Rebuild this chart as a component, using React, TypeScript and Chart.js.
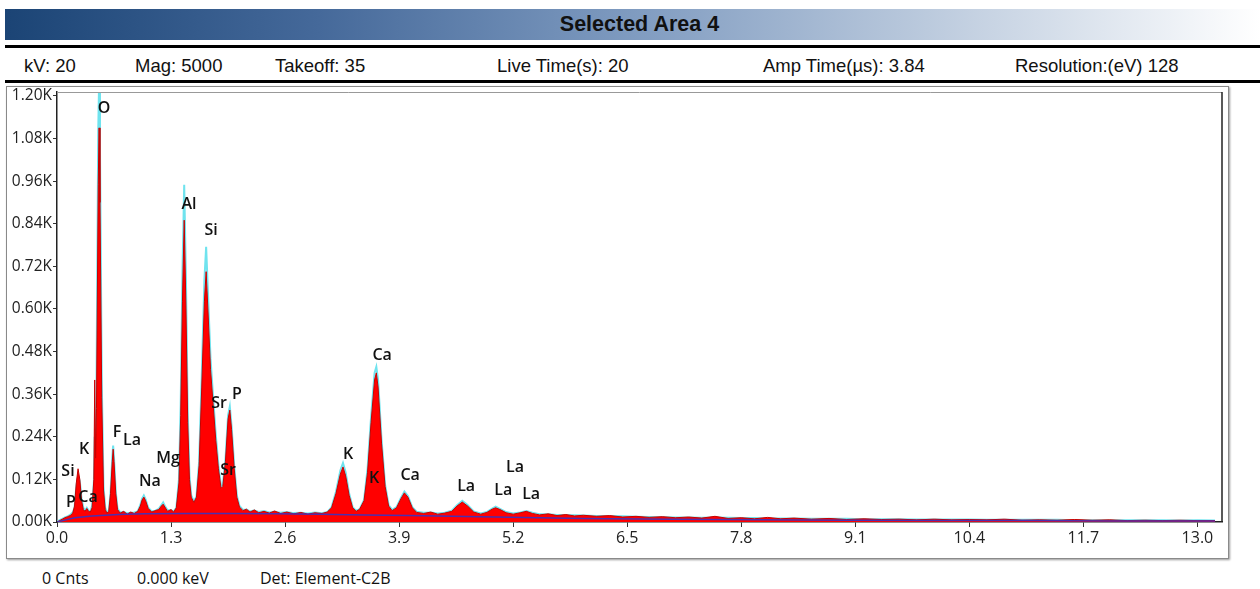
import React, { useEffect, useRef } from "react";
import { Chart, registerables } from "chart.js";
Chart.register(...registerables);

// ---- data ----
const energyKeV = [
  0.0, 0.03, 0.06, 0.09, 0.12, 0.15, 0.18, 0.2, 0.22, 0.24, 0.26, 0.28, 0.3, 0.32, 0.34, 0.36, 0.38, 0.4, 0.42, 0.43,
  0.44, 0.45, 0.47, 0.48, 0.49, 0.51, 0.53, 0.55, 0.57, 0.59, 0.61, 0.63, 0.64, 0.65, 0.67, 0.69, 0.72, 0.76, 0.8, 0.84,
  0.88, 0.92, 0.95, 0.97, 0.99, 1.01, 1.04, 1.08, 1.12, 1.16, 1.19, 1.21, 1.23, 1.26, 1.3, 1.33, 1.36, 1.39, 1.41, 1.43,
  1.45, 1.47, 1.49, 1.51, 1.53, 1.56, 1.59, 1.62, 1.65, 1.68, 1.7, 1.72, 1.75, 1.78, 1.81, 1.84, 1.87, 1.89, 1.92, 1.95,
  1.97, 1.99, 2.02, 2.05, 2.08, 2.12, 2.16, 2.2, 2.25, 2.3, 2.36, 2.42, 2.48, 2.55, 2.62, 2.7, 2.78, 2.86, 2.94, 3.02,
  3.08, 3.13, 3.18, 3.23, 3.26, 3.29, 3.33, 3.37, 3.41, 3.45, 3.5, 3.54, 3.58, 3.62, 3.64, 3.66, 3.7, 3.74, 3.78, 3.82,
  3.87, 3.92, 3.96, 4.0, 4.05, 4.1, 4.18, 4.26, 4.34, 4.42, 4.5, 4.56, 4.62, 4.68, 4.75, 4.83, 4.9, 4.96, 5.0, 5.05,
  5.12, 5.2, 5.28, 5.35, 5.42, 5.5, 5.6, 5.7, 5.8, 5.9, 6.0, 6.15, 6.3, 6.45, 6.6, 6.75, 6.9, 7.05, 7.2, 7.35,
  7.5, 7.65, 7.8, 7.95, 8.1, 8.25, 8.4, 8.6, 8.8, 9.0, 9.2, 9.4, 9.6, 9.8, 10.0, 10.2, 10.4, 10.6, 10.8, 11.0,
  11.2, 11.4, 11.6, 11.8, 12.0, 12.2, 12.4, 12.6, 12.8, 13.0, 13.2,
];
const countsSpectrum = [
  0, 4, 8, 12, 15, 18, 25, 45, 110, 150, 120, 60, 35, 30, 38, 30, 28, 40, 120, 400,
  180, 320, 950, 1110, 900, 350, 90, 35, 25, 30, 80, 170, 205, 170, 80, 35, 25, 30, 22, 28,
  24, 30, 45, 62, 70, 60, 38, 28, 32, 35, 45, 50, 42, 30, 35, 28, 40, 110, 300, 620,
  850, 600, 280, 120, 70, 55, 70, 160, 380, 620, 705, 600, 430, 330, 230, 150, 95, 100, 170, 290,
  315, 260, 150, 70, 42, 32, 36, 28, 34, 26, 30, 25, 31, 24, 28, 23, 27, 22, 26, 24,
  28, 40, 80, 135, 155, 130, 75, 40, 30, 36, 60, 140, 280, 400, 420, 380, 220, 100, 45, 32,
  40, 65, 82, 70, 40, 27, 24, 28, 22, 25, 30, 45, 56, 45, 28, 22, 27, 36, 40, 35,
  26, 22, 26, 30, 24, 20, 23, 18, 21, 17, 19, 16, 18, 14, 16, 13, 15, 12, 14, 11,
  16, 10, 12, 9, 13, 9, 11, 8, 10, 7, 9, 7, 8, 6, 8, 6, 7, 6, 8, 5,
  6, 5, 7, 5, 6, 4, 5, 4, 5, 4, 4,
];
const countsOverlay = [
  0, 5, 9, 13, 16, 20, 28, 40, 100, 130, 115, 65, 40, 32, 40, 32, 30, 45, 110, 240,
  200, 380, 1100, 1240, 1050, 400, 100, 40, 28, 30, 80, 180, 215, 180, 85, 38, 27, 28, 25, 26,
  27, 30, 48, 66, 75, 64, 40, 30, 32, 37, 48, 55, 45, 33, 33, 30, 40, 120, 330, 700,
  950, 680, 310, 130, 75, 58, 72, 170, 410, 680, 775, 650, 460, 350, 245, 160, 100, 105, 175, 300,
  325, 270, 158, 75, 45, 34, 35, 30, 32, 28, 31, 27, 29, 26, 28, 25, 26, 24, 27, 25,
  28, 42, 85, 145, 166, 140, 80, 42, 32, 36, 62, 150, 295, 420, 437, 400, 230, 105, 48, 34,
  42, 68, 86, 73, 42, 29, 26, 27, 24, 26, 32, 47, 60, 48, 30, 24, 28, 38, 43, 37,
  28, 24, 27, 31, 26, 22, 22, 20, 20, 19, 18, 17, 17, 16, 15, 14, 14, 13, 13, 12,
  13, 12, 11, 11, 10, 10, 10, 9, 9, 9, 8, 8, 8, 7, 7, 7, 7, 6, 6, 6,
  6, 6, 5, 5, 5, 5, 5, 5, 4, 5, 4,
];
const backgroundKeV = [0, 0.1, 0.2, 0.4, 0.7, 1.0, 1.5, 2.0, 2.5, 3.0, 3.5, 4.0, 4.5, 5.0, 5.5, 6.0, 7.0, 8.0, 9.0, 10.0, 11.0, 12.0, 13.2];
const backgroundCounts = [0, 6, 12, 17, 21, 23, 24, 24, 23, 22, 20, 18, 16, 14, 12, 10, 8, 6, 5, 4, 4, 3, 3];

const xTickValues = [0, 1.3, 2.6, 3.9, 5.2, 6.5, 7.8, 9.1, 10.4, 11.7, 13.0];
const yTickValues = [0, 120, 240, 360, 480, 600, 720, 840, 960, 1080, 1200];

const peakLabels = ["O", "Al", "Si", "Sr", "P", "Sr", "F", "La", "K", "Si", "P", "Ca", "Na", "Mg", "K", "K", "Ca", "Ca", "La", "La", "La", "La"];
const peakLabelKeV = [0.536, 1.505, 1.756, 1.847, 2.052, 1.95, 0.684, 0.855, 0.308, 0.125, 0.16, 0.353, 1.06, 1.266, 3.318, 3.615, 3.706, 4.025, 4.664, 5.086, 5.222, 5.405];
const peakLabelCounts = [1166, 893, 822, 335, 358, 144, 251, 231, 203, 141, 56, 70, 115, 180, 189, 124, 468, 130, 101, 90, 155, 79];

const titleText = "Selected Area 4";
const infoItems = ["kV: 20", "Mag: 5000", "Takeoff: 35", "Live Time(s): 20", "Amp Time(µs): 3.84", "Resolution:(eV) 128"];
const infoX = [24, 135, 275, 497, 763, 1015];
const footerItems = ["0 Cnts", "0.000 keV", "Det: Element-C2B"];
const footerX = [42, 137, 260];

const peakLabelPlugin = {
  id: "peakLabels",
  afterDatasetsDraw(chart: any) {
    const { ctx, scales } = chart;
    const x = scales.x;
    const y = scales.y;
    ctx.save();
    ctx.font = '600 16px "Open Sans"';
    ctx.fillStyle = "#111";
    ctx.textAlign = "center";
    ctx.textBaseline = "middle";
    peakLabels.forEach((t, i) => {
      ctx.fillText(t, x.getPixelForValue(peakLabelKeV[i]), y.getPixelForValue(peakLabelCounts[i]));
    });
    ctx.restore();
  },
};

const framePlugin = {
  id: "plotFrame",
  afterDraw(chart: any) {
    const { ctx, chartArea } = chart;
    ctx.save();
    ctx.strokeStyle = "#999";
    ctx.lineWidth = 1;
    ctx.beginPath();
    ctx.moveTo(chartArea.left, chartArea.top + 0.5);
    ctx.lineTo(chartArea.right, chartArea.top + 0.5);
    ctx.stroke();
    ctx.strokeStyle = "#222";
    ctx.lineWidth = 1.5;
    ctx.beginPath();
    ctx.moveTo(chartArea.right, chartArea.top);
    ctx.lineTo(chartArea.right, chartArea.bottom);
    ctx.stroke();
    ctx.restore();
  },
};

function SpectrumChart() {
  const ref = useRef<HTMLCanvasElement | null>(null);
  useEffect(() => {
    if (!ref.current) return;
    const spectrum = energyKeV.map((e, i) => ({ x: e, y: countsSpectrum[i] }));
    const overlay = energyKeV.map((e, i) => ({ x: e, y: countsOverlay[i] }));
    const bg = backgroundKeV.map((e, i) => ({ x: e, y: backgroundCounts[i] }));
    const chart = new Chart(ref.current, {
      type: "line",
      data: {
        datasets: [
          {
            data: bg,
            borderColor: "#4a2fb0",
            borderWidth: 1.5,
            pointRadius: 0,
            fill: false,
            order: 0,
          },
          {
            data: spectrum,
            borderColor: "#c80000",
            borderWidth: 1,
            backgroundColor: "#ff0000",
            pointRadius: 0,
            fill: "origin",
            order: 1,
          },
          {
            data: overlay,
            borderColor: "#6fe3ee",
            borderWidth: 2,
            pointRadius: 0,
            fill: false,
            order: 2,
          },
        ],
      },
      options: {
        animation: false,
        responsive: false,
        maintainAspectRatio: false,
        events: [],
        layout: { padding: { left: 0, right: 6, top: 5, bottom: 0 } },
        plugins: { legend: { display: false }, tooltip: { enabled: false } },
        elements: { line: { tension: 0 } },
        scales: {
          x: {
            type: "linear",
            min: 0,
            max: 13.28,
            afterBuildTicks: (scale: any) => {
              scale.ticks = xTickValues.map((v) => ({ value: v }));
            },
            afterFit: (scale: any) => {
              scale.height = 36;
              scale.paddingLeft = 0;
              scale.paddingRight = 0;
            },
            ticks: {
              autoSkip: false,
              maxRotation: 0,
              padding: 2,
              color: "#222",
              font: { family: '"Open Sans"', size: 16 },
              callback: (v: any) => Number(v).toFixed(1),
            },
            grid: { display: true, drawOnChartArea: false, drawTicks: true, tickLength: 5, color: "#333" },
            border: { display: true, color: "#222", width: 1.5 },
          },
          y: {
            type: "linear",
            min: 0,
            max: 1211,
            afterBuildTicks: (scale: any) => {
              scale.ticks = yTickValues.map((v) => ({ value: v }));
            },
            afterFit: (scale: any) => {
              scale.width = 50;
              scale.paddingTop = 0;
              scale.paddingBottom = 0;
            },
            ticks: {
              autoSkip: false,
              padding: 1,
              color: "#222",
              font: { family: '"Open Sans"', size: 15.5 },
              callback: (v: any) => (Number(v) / 1000).toFixed(2) + "K",
            },
            grid: { display: true, drawOnChartArea: false, drawTicks: true, tickLength: 4, color: "#333" },
            border: { display: true, color: "#222", width: 1.5 },
          },
        },
      },
      plugins: [peakLabelPlugin, framePlugin],
    });
    return () => chart.destroy();
  }, []);
  return <canvas ref={ref} width={1221} height={471} style={{ width: 1221, height: 471, display: "block" }} />;
}

export default function App() {
  const sans = '"Liberation Sans", Arial, sans-serif';
  return (
    <div style={{ position: "absolute", left: 0, top: 0, width: 1260, height: 589, background: "#fff", overflow: "hidden" }}>
      <div
        style={{
          position: "absolute",
          left: 5,
          top: 9,
          width: 1255,
          height: 31,
          background: "linear-gradient(to right, #1b4475 0%, #45699a 25%, #7f9bc0 50%, #bfcddf 75%, #ffffff 100%)",
          display: "flex",
          alignItems: "center",
          justifyContent: "center",
          fontFamily: sans,
          fontWeight: "bold",
          fontSize: 21.5,
          color: "#111",
        }}
      >
        <span style={{ marginLeft: 14 }}>{titleText}</span>
      </div>
      <div style={{ position: "absolute", left: 5, top: 45, width: 1255, height: 3, background: "#000" }} />
      {infoItems.map((t, i) => (
        <div
          key={t}
          style={{ position: "absolute", left: infoX[i], top: 55, fontFamily: sans, fontSize: 18.5, color: "#111", whiteSpace: "nowrap", lineHeight: "22px" }}
        >
          {t}
        </div>
      ))}
      <div style={{ position: "absolute", left: 5, top: 80, width: 1255, height: 3, background: "#000" }} />
      <div
        style={{
          position: "absolute",
          left: 6,
          top: 86,
          width: 1221,
          height: 471,
          border: "1px solid #8a8a8a",
          boxShadow: "1px 1px 2px #999",
        }}
      >
        <SpectrumChart />
      </div>
      {footerItems.map((t, i) => (
        <div
          key={t}
          style={{ position: "absolute", left: footerX[i], top: 567, fontFamily: '"Open Sans", sans-serif', fontSize: 16, color: "#111", whiteSpace: "nowrap", lineHeight: "22px" }}
        >
          {t}
        </div>
      ))}
    </div>
  );
}
